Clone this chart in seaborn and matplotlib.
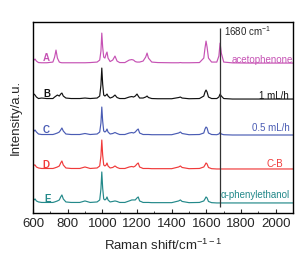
import matplotlib
matplotlib.use("Agg")
import matplotlib.pyplot as plt
from matplotlib.ticker import MultipleLocator
import numpy as np
import pandas as pd
import seaborn as sns

# Raman shift grid (cm-1) shared by all spectra
shift = [600, 606, 612, 620, 632, 650, 680, 715, 725, 733, 741, 752, 760, 767,
         775, 790, 820, 870, 900, 930, 970, 985, 992, 997, 1002, 1008, 1015,
         1022, 1027, 1033, 1045, 1060, 1073, 1085, 1100, 1130, 1155, 1170, 1180,
         1190, 1200, 1207, 1215, 1235, 1250, 1258, 1266, 1285, 1320, 1400, 1440,
         1450, 1460, 1500, 1560, 1585, 1592, 1598, 1604, 1612, 1630, 1660, 1672,
         1679, 1686, 1700, 1750, 1850, 2000, 2100]

# intensities above each baseline (a.u.)
spec_a = [2, 3, 4, 2, 0.5, 0.3, 0.3, 1, 6, 13, 5, 1, 0.5, 0.3,
          0.3, 0.3, 0.3, 0.3, 0.3, 0.5, 1, 3, 12, 30, 16, 6, 5,
          9, 11, 5, 1.5, 3, 7, 2, 0.5, 0.5, 3, 3.5, 3,
          1.5, 1, 1, 1, 2, 6, 10, 5, 1, 0.5, 0.3, 0.3,
          0.5, 0.3, 0.3, 0.5, 5, 15, 22, 16, 5, 1, 1, 7,
          20, 10, 1, 0.2, 0, 0, 0]
spec_b = [3, 5, 4, 2, 0.5, 1, 0.5, 0.5, 2, 3, 4, 3, 5, 6,
          3, 1, 0.5, 0.5, 1, 0.5, 1, 3, 14, 31, 15, 4, 3,
          4, 5, 3, 1, 2, 4, 1.5, 0.5, 0.5, 2, 2.5, 2,
          3, 5, 3, 1, 1, 2, 3, 1.5, 0.5, 0.3, 0.3, 1.5,
          2, 1, 0.3, 0.5, 3, 7, 9, 7, 2, 0.5, 0.5, 2,
          5, 3, 0.5, 0, 0, 0, 0]
spec_c = [2, 4, 5, 3, 1, 0.5, 0.5, 0.5, 1, 1.5, 2, 3, 5, 7,
          4, 1, 0.5, 0.5, 1.5, 0.5, 1, 3, 12, 28, 14, 4, 3,
          4, 6, 3, 1, 1.5, 2.5, 1.5, 0.5, 0.5, 2, 2.5, 2,
          3, 5, 6, 2, 0.5, 0.5, 0.5, 0.5, 0.3, 0.3, 0.3, 2,
          3, 1.5, 0.3, 0.5, 2, 6, 8, 7, 2, 0.5, 0.3, 1,
          2.5, 1, 0.3, 0, 0, 0, 0]
spec_d = [2, 4, 4, 2, 1, 0.5, 0.5, 0.5, 1, 1.5, 2, 3, 6, 8,
          4, 1, 0.5, 0.5, 2, 0.5, 1, 3, 13, 29, 14, 4, 3,
          4, 6, 3, 1, 1.5, 3, 1.5, 0.5, 0.5, 2, 2.5, 2,
          3, 5, 6, 2, 0.5, 0.5, 0.5, 0.5, 0.3, 0.3, 0.3, 2,
          3, 1.5, 0.3, 0.5, 2, 4, 6, 5, 1.5, 0.3, 0, 0,
          0, 0, 0, 0, 0, 0, 0]
spec_e = [2, 3, 4, 2, 1, 0.5, 0.5, 0.5, 1, 1.5, 2, 3, 6, 8,
          4, 1, 0.5, 0.5, 2, 0.5, 1, 3, 14, 31, 15, 4, 3,
          4, 6, 3, 1, 1.5, 2, 1.5, 0.5, 0.5, 2, 3, 3,
          3, 5, 6, 2, 0.5, 0.5, 0.5, 0.5, 0.3, 0.3, 0.3, 2,
          3, 1.5, 0.3, 0.5, 2, 4, 6, 5, 1.5, 0.3, 0, 0,
          0, 0, 0, 0, 0, 0, 0]

samples = ["A", "B", "C", "D", "E"]
names = ["acetophenone", "1 mL/h", "0.5 mL/h", "C-B", "α-phenylethanol"]
spectra = [spec_a, spec_b, spec_c, spec_d, spec_e]
offsets = [150, 114, 78, 44, 10]
colors = ["#c652b4", "#111111", "#4a5cb4", "#f03a3a", "#23898a"]

frames = []
for s, spec, off in zip(samples, spectra, offsets):
    frames.append(pd.DataFrame({"shift": shift,
                                "intensity": np.array(spec) + off,
                                "sample": s}))
df = pd.concat(frames, ignore_index=True)

sns.set_theme(style="ticks")
plt.rcParams["font.family"] = ["Liberation Sans", "DejaVu Sans"]
plt.rcParams["mathtext.default"] = "regular"

fig = plt.figure(figsize=(3.05, 2.6), dpi=100)
ax = fig.add_axes([0.108, 0.181, 0.853, 0.734])

sns.lineplot(data=df, x="shift", y="intensity", hue="sample",
             palette=dict(zip(samples, colors)), linewidth=0.85,
             legend=False, ax=ax)

ax.vlines(1680, 6, 185, color="#333333", linewidth=0.9)
ax.text(1702, 182, "1680 cm$^{-1}$", fontsize=7, ha="left", va="center")

letter_x = [679, 681, 676, 676, 686]
letter_dy = [5, 5, 5, 4, 4]
name_x = [2100, 2077, 2083, 2042, 2083]
name_dy = [3, 3, 7, 5, 8]
for s, nm, off, c, lx, ldy, nx, ndy in zip(samples, names, offsets, colors,
                                           letter_x, letter_dy, name_x, name_dy):
    ax.text(lx, off + ldy, s, color=c, fontsize=7, fontweight="bold",
            ha="center", va="center")
    ax.text(nx, off + ndy, nm, color=c, fontsize=7, ha="right", va="center")

ax.set_xlim(600, 2100)
ax.set_ylim(0, 191)
ax.xaxis.set_major_locator(MultipleLocator(200))
ax.xaxis.set_minor_locator(MultipleLocator(100))
ax.tick_params(axis="x", which="major", direction="in", length=3, width=0.8,
               labelsize=9.5, pad=4)
ax.tick_params(axis="x", which="minor", direction="in", length=1.5, width=0.6)
ax.set_yticks([])
for sp in ax.spines.values():
    sp.set_linewidth(1.0)
    sp.set_color("black")

ax.set_xlabel("Raman shift/cm$^{-1-1}$", fontsize=9.5, labelpad=5)
ax.set_ylabel("Intensity/a.u.", fontsize=9.5, labelpad=8)

fig.savefig("out.png", dpi=100)
